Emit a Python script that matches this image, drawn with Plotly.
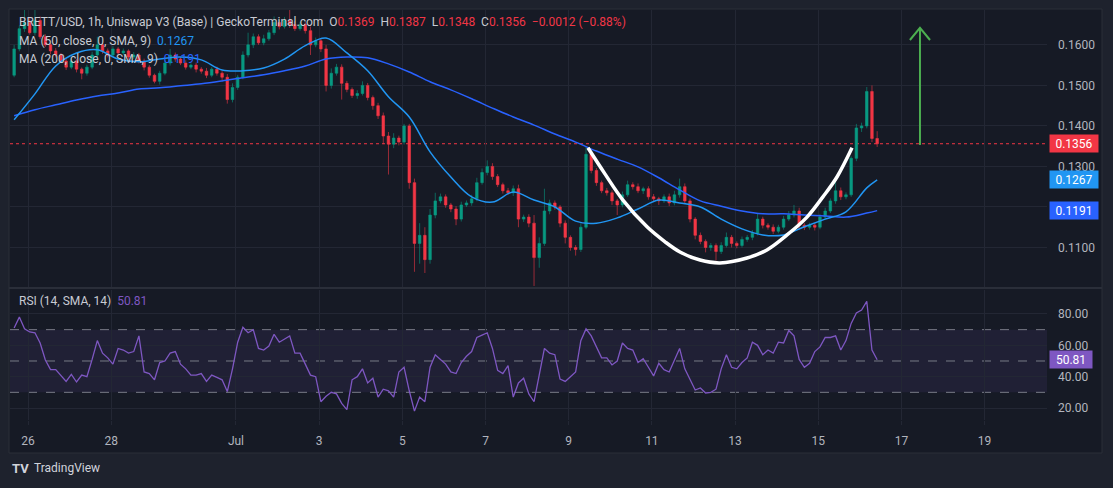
import pandas as pd
import plotly.graph_objects as go

# ------------------------------------------------------------------ data
candle_start = "2024-06-25 16:00"
first_open = 0.1525
closes = [
    0.1590, 0.1640, 0.1655, 0.1630, 0.1660, 0.1620, 0.1600, 0.1585, 0.1575, 0.1560,
    0.1545, 0.1560, 0.1540, 0.1530, 0.1545, 0.1575, 0.1600, 0.1585, 0.1575, 0.1590,
    0.1580, 0.1585, 0.1570, 0.1575, 0.1560, 0.1545, 0.1525, 0.1510, 0.1530, 0.1555,
    0.1575, 0.1565, 0.1555, 0.1545, 0.1550, 0.1540, 0.1535, 0.1525, 0.1540, 0.1530,
    0.1520, 0.1465, 0.1495, 0.1520, 0.1575, 0.1600, 0.1620, 0.1605, 0.1615, 0.1630,
    0.1655, 0.1645, 0.1660, 0.1650, 0.1640, 0.1650, 0.1635, 0.1600, 0.1610, 0.1590,
    0.1500, 0.1530, 0.1545, 0.1505, 0.1490, 0.1475, 0.1480, 0.1500, 0.1470, 0.1450,
    0.1425, 0.1375, 0.1355, 0.1370, 0.1360, 0.1400, 0.1260, 0.1110, 0.1130, 0.1070,
    0.1180, 0.1215, 0.1225, 0.1205, 0.1195, 0.1170, 0.1205, 0.1210, 0.1220, 0.1260,
    0.1285, 0.1300, 0.1275, 0.1255, 0.1240, 0.1235, 0.1245, 0.1170, 0.1175, 0.1160,
    0.1075, 0.1110, 0.1190, 0.1210, 0.1200, 0.1160, 0.1125, 0.1100, 0.1095, 0.1150,
    0.1330, 0.1290, 0.1260, 0.1240, 0.1235, 0.1215, 0.1205, 0.1230, 0.1255, 0.1250,
    0.1240, 0.1245, 0.1225, 0.1220, 0.1215, 0.1225, 0.1210, 0.1230, 0.1250, 0.1215,
    0.1170, 0.1130, 0.1115, 0.1100, 0.1105, 0.1090, 0.1105, 0.1125, 0.1110, 0.1105,
    0.1120, 0.1125, 0.1135, 0.1170, 0.1155, 0.1150, 0.1140, 0.1150, 0.1170, 0.1180,
    0.1190, 0.1155, 0.1150, 0.1155, 0.1150, 0.1175, 0.1190, 0.1215, 0.1240, 0.1225,
    0.1230, 0.1320, 0.1395, 0.1400, 0.1485, 0.1369, 0.1356,
]
# wick lengths above / below the body, in units of 0.0001
upper_wick = [
    10, 8, 31, 12, 26, 10, 6, 5, 7, 5,
    6, 8, 5, 4, 6, 8, 20, 5, 6, 7,
    5, 6, 4, 7, 5, 6, 5, 4, 6, 8,
    15, 6, 5, 7, 4, 6, 5, 8, 5, 6,
    5, 8, 10, 6, 9, 30, 8, 6, 10, 7,
    15, 6, 9, 26, 8, 7, 6, 10, 8, 6,
    10, 12, 8, 7, 6, 5, 8, 10, 6, 5,
    7, 8, 10, 12, 6, 5, 5, 10, 30, 20,
    15, 20, 8, 6, 5, 7, 8, 6, 10, 12,
    10, 15, 8, 6, 5, 7, 8, 10, 6, 7,
    20, 15, 55, 8, 6, 5, 7, 5, 6, 10,
    20, 8, 6, 5, 7, 6, 5, 8, 10, 6,
    8, 5, 6, 7, 5, 6, 8, 10, 20, 8,
    6, 5, 7, 5, 6, 5, 8, 12, 6, 5,
    7, 6, 8, 15, 6, 5, 7, 6, 8, 10,
    15, 8, 5, 6, 5, 7, 8, 6, 30, 8,
    6, 5, 10, 8, 11, 15, 18,
]
lower_wick = [
    5, 6, 8, 5, 7, 6, 5, 8, 6, 5,
    7, 5, 8, 15, 6, 5, 5, 7, 6, 5,
    6, 5, 7, 5, 6, 8, 6, 5, 8, 5,
    6, 7, 5, 6, 5, 8, 6, 7, 5, 6,
    8, 10, 7, 6, 5, 6, 8, 5, 6, 5,
    6, 7, 5, 8, 6, 5, 7, 25, 6, 8,
    15, 8, 6, 40, 7, 6, 8, 5, 7, 10,
    8, 20, 75, 10, 8, 6, 15, 70, 50, 33,
    10, 8, 6, 7, 8, 15, 6, 5, 7, 6,
    5, 7, 8, 6, 7, 5, 8, 20, 7, 10,
    70, 25, 6, 8, 7, 10, 15, 8, 15, 6,
    5, 7, 8, 6, 7, 10, 25, 6, 5, 7,
    6, 8, 7, 6, 10, 5, 8, 6, 7, 6,
    8, 10, 7, 12, 8, 22, 6, 5, 10, 7,
    5, 6, 7, 5, 8, 6, 7, 5, 6, 5,
    6, 10, 7, 6, 8, 5, 6, 5, 7, 8,
    6, 5, 7, 10, 6, 9, 8,
]
rsi_values = [
    71, 78, 70.5, 68.5, 68, 61.5, 50.6, 44.5, 44.5, 41,
    37, 41.5, 36.6, 41, 40, 51, 63, 55, 52, 48,
    58, 57, 55, 56, 66, 43, 42, 38, 49, 50,
    55, 56, 48, 45, 41, 41, 42, 37, 41, 39.5,
    38, 30.5, 45, 62, 71.5, 68, 70, 58, 57, 59.5,
    67, 62, 64, 66, 55, 55, 48, 41, 40, 24,
    27.5, 30, 29, 23, 19, 38, 40, 45, 36, 39,
    27, 32, 31, 27, 43, 46, 31, 18, 27, 24,
    46, 54, 51, 48, 43, 42, 49, 53, 56, 65,
    66.5, 68, 58, 44, 42, 47, 27, 36, 39, 29,
    24, 40, 58, 55, 54, 38.5, 37, 40, 43, 63,
    70.5, 66, 59, 52, 52, 47.5, 50, 61.5, 58, 57,
    49, 51.5, 46, 40.5, 48.5, 44.5, 43, 50, 58, 45,
    38, 31.5, 32.8, 29.6, 30, 32, 45, 54, 46, 45,
    49, 52, 62, 60, 54, 57, 55, 62, 61.5, 69.5,
    66, 51, 46, 48.5, 56, 59, 65, 65, 66, 57,
    63, 74, 80.6, 82.5, 88, 57, 50.81,
]
ma_index = list(range(0, 165, 4)) + [166]
ma50 = [
    0.1415, 0.1479, 0.1548, 0.1580, 0.1588, 0.1565, 0.1558, 0.1565, 0.1570, 0.1563,
    0.1538, 0.1536, 0.1543, 0.1565, 0.1598, 0.1617, 0.1580, 0.1536, 0.1472, 0.1422,
    0.1336, 0.1274, 0.1225, 0.1212, 0.1237, 0.1217, 0.1200, 0.1165, 0.1160, 0.1173,
    0.1195, 0.1217, 0.1210, 0.1200, 0.1170, 0.1146, 0.1131, 0.1131, 0.1151, 0.1170,
    0.1188, 0.1247, 0.1267,
]
ma200 = [
    0.1425, 0.1440, 0.1452, 0.1464, 0.1474, 0.1481, 0.1491, 0.1494, 0.1499, 0.1504,
    0.1511, 0.1519, 0.1526, 0.1536, 0.1548, 0.1565, 0.1570, 0.1568, 0.1553, 0.1533,
    0.1509, 0.1489, 0.1467, 0.1444, 0.1422, 0.1402, 0.1380, 0.1360, 0.1338, 0.1318,
    0.1299, 0.1272, 0.1242, 0.1215, 0.1202, 0.1190, 0.1183, 0.1183, 0.1180, 0.1178,
    0.1175, 0.1185, 0.1191,
]
# cup drawing (hours after 2024-06-26 00:00, price)
cup_hours = [323.1, 333.0, 343.3, 357.2, 367.6, 376.2, 387.8, 399.3, 414.9, 426.4,
             438.0, 449.5, 458.7, 466.8, 475.5]
cup_prices = [0.1346, 0.1281, 0.1217, 0.1151, 0.1114, 0.1089, 0.1069, 0.1062, 0.1074, 0.1094,
              0.1131, 0.1175, 0.1225, 0.1274, 0.1346]
# green arrow drawing
arrow_hour = 514.7
arrow_half_width_hours = 5.8
arrow_base_price = 0.1353
arrow_tip_price = 0.1642
arrow_head_price = 0.1612

change_text = "−0.0012 (−0.88%)"
x_tick_dates = ["2024-06-26", "2024-06-28", "2024-07-01", "2024-07-03", "2024-07-05",
                "2024-07-07", "2024-07-09", "2024-07-11", "2024-07-13", "2024-07-15",
                "2024-07-17", "2024-07-19"]
x_tick_text = ["26", "28", "Jul", "3", "5", "7", "9", "11", "13", "15", "17", "19"]
price_ticks = [0.11, 0.12, 0.13, 0.14, 0.15, 0.16]
price_tick_text = ["0.1100", "", "0.1300", "0.1400", "0.1500", "0.1600"]
rsi_ticks = [20, 40, 60, 80]
rsi_tick_text = ["20.00", "40.00", "60.00", "80.00"]
rsi_levels = [70, 50, 30]

# ------------------------------------------------------------------ derived
times = pd.date_range(candle_start, periods=len(closes), freq="3h")
opens = [first_open] + closes[:-1]
highs = [max(o, c) + u * 1e-4 for o, c, u in zip(opens, closes, upper_wick)]
lows = [min(o, c) - w * 1e-4 for o, c, w in zip(opens, closes, lower_wick)]
ma_times = [times[i] for i in ma_index]
day0 = pd.Timestamp("2024-06-26")
cup_times = [day0 + pd.Timedelta(hours=h) for h in cup_hours]
at = day0 + pd.Timedelta(hours=arrow_hour)
al = day0 + pd.Timedelta(hours=arrow_hour - arrow_half_width_hours)
ar = day0 + pd.Timedelta(hours=arrow_hour + arrow_half_width_hours)

UP = "#089981"
DOWN = "#f23645"
MA50C = "#2196f3"
MA200C = "#2962ff"
RSIC = "#7e57c2"
GRID = "#232734"
TXT = "#b2b5be"
PANE = "#161a25"
OUTER = "#1e222d"

fig = go.Figure()
fig.add_trace(go.Candlestick(
    x=times, open=opens, high=highs, low=lows, close=closes,
    increasing=dict(line=dict(color=UP, width=0.6), fillcolor=UP),
    decreasing=dict(line=dict(color=DOWN, width=0.6), fillcolor=DOWN),
    whiskerwidth=0, hoverinfo="skip", showlegend=False, xaxis="x", yaxis="y"))
fig.add_trace(go.Scatter(x=ma_times, y=ma200, mode="lines",
                         line=dict(color=MA200C, width=1.5, shape="spline"),
                         hoverinfo="skip", xaxis="x", yaxis="y"))
fig.add_trace(go.Scatter(x=ma_times, y=ma50, mode="lines",
                         line=dict(color=MA50C, width=1.5, shape="spline"),
                         hoverinfo="skip", xaxis="x", yaxis="y"))
fig.add_trace(go.Scatter(x=cup_times, y=cup_prices, mode="lines",
                         line=dict(color="#ffffff", width=3.5, shape="spline"),
                         hoverinfo="skip", xaxis="x", yaxis="y"))
fig.add_trace(go.Scatter(
    x=[at, at, None, al, at, ar],
    y=[arrow_base_price, arrow_tip_price, None, arrow_head_price, arrow_tip_price, arrow_head_price],
    mode="lines", line=dict(color="#4caf50", width=2), hoverinfo="skip", xaxis="x", yaxis="y"))
fig.add_trace(go.Scatter(x=times, y=rsi_values, mode="lines",
                         line=dict(color=RSIC, width=1.3),
                         hoverinfo="skip", xaxis="x", yaxis="y2"))

# geometry helpers (paper coords)
L, R, T, B = 10, 66, 10, 68
W, H = 1113, 488
pw, ph = W - L - R, H - T - B


def px_x(px):
    return (px - L) / pw


def px_y(py):
    return (H - B - py) / ph


shapes = [
    dict(type="rect", xref="paper", yref="paper", x0=px_x(9), x1=px_x(1102),
         y0=px_y(453), y1=px_y(9), fillcolor=PANE, line=dict(color="#2a2e39", width=1),
         layer="below"),
    dict(type="rect", xref="paper", yref="y2", x0=0, x1=1, y0=30, y1=70,
         fillcolor="rgba(126,87,194,0.10)", line=dict(width=0), layer="below"),
    dict(type="line", xref="paper", yref="paper", x0=px_x(9), x1=px_x(1102),
         y0=px_y(288), y1=px_y(288), line=dict(color="#2a2e39", width=2)),
    dict(type="line", xref="paper", yref="y", x0=0, x1=1, y0=closes[-1], y1=closes[-1],
         line=dict(color=DOWN, width=1, dash="dot"), layer="below"),
]
for lv in rsi_levels:
    shapes.append(dict(type="line", xref="paper", yref="y2", x0=0, x1=1, y0=lv, y1=lv,
                       line=dict(color="#787b86", width=1, dash="dash"), layer="below"))

sp = "&nbsp;&nbsp;"
red = lambda s: f"<span style='color:{DOWN}'>{s}</span>"
line1 = ("BRETT/USD, 1h, Uniswap V3 (Base) | GeckoTerminal.com" + sp +
         "O" + red(f"{opens[-1]:.4f}") + sp + "H" + red(f"{highs[-1]:.4f}") + sp +
         "L" + red(f"{lows[-1]:.4f}") + sp + "C" + red(f"{closes[-1]:.4f}") + sp +
         red(change_text))
line2 = f"MA (50, close, 0, SMA, 9){sp}<span style='color:{MA50C}'>{ma50[-1]:.4f}</span>"
line3 = f"MA (200, close, 0, SMA, 9){sp}<span style='color:{MA200C}'>{ma200[-1]:.4f}</span>"
line4 = f"RSI (14, SMA, 14){sp}<span style='color:{RSIC}'>{rsi_values[-1]:.2f}</span>"

ann = []
for txt, py in [(line1, 22), (line2, 41), (line3, 59), (line4, 301)]:
    ann.append(dict(text=txt, xref="paper", yref="paper", x=px_x(17), y=px_y(py),
                    xanchor="left", yanchor="middle", showarrow=False,
                    font=dict(size=12, color="#c8cbd3")))
for val, yref, bg, fmt in [(closes[-1], "y", DOWN, "{:.4f}"), (ma50[-1], "y", MA50C, "{:.4f}"),
                           (ma200[-1], "y", MA200C, "{:.4f}"), (rsi_values[-1], "y2", RSIC, "{:.2f}")]:
    ann.append(dict(text=fmt.format(val), xref="paper", yref=yref, x=px_x(1049), y=val,
                    xanchor="left", yanchor="middle", showarrow=False, bgcolor=bg,
                    borderpad=2, width=44 if yref == "y" else 38, height=13,
                    font=dict(size=12, color="#ffffff")))
ann.append(dict(text="<b>TV</b>", xref="paper", yref="paper", x=px_x(10), y=px_y(468),
                xanchor="left", yanchor="middle", showarrow=False,
                font=dict(size=13, color="#d1d4dc")))
ann.append(dict(text="TradingView", xref="paper", yref="paper", x=px_x(32), y=px_y(468),
                xanchor="left", yanchor="middle", showarrow=False,
                font=dict(size=12, color="#d1d4dc")))

x_left = day0 - pd.Timedelta(hours=10.39)
x_right = day0 + pd.Timedelta(hours=588.0)

fig.update_layout(
    width=W, height=H, margin=dict(l=L, r=R, t=T, b=B),
    paper_bgcolor=OUTER, plot_bgcolor=PANE, showlegend=False,
    font=dict(family="Roboto, sans-serif", color=TXT, size=12),
    xaxis=dict(type="date", range=[x_left, x_right], anchor="y2",
               tickvals=x_tick_dates, ticktext=x_tick_text,
               showgrid=True, gridcolor=GRID, zeroline=False, showline=False,
               ticks="outside", ticklen=4, tickcolor=GRID, ticklabelstandoff=6,
               rangeslider=dict(visible=False), tickfont=dict(size=12, color=TXT)),
    yaxis=dict(domain=[px_y(287), 1], range=[0.10025, 0.1686], side="right", anchor="x",
               tickvals=price_ticks, ticktext=price_tick_text, showgrid=True, gridcolor=GRID,
               zeroline=False, showline=False, ticklabelstandoff=10,
               tickfont=dict(size=12, color=TXT)),
    yaxis2=dict(domain=[0, px_y(290)], range=[12.35, 95.3], side="right", anchor="x",
                tickvals=rsi_ticks, ticktext=rsi_tick_text, showgrid=True, gridcolor=GRID,
                zeroline=False, showline=False, ticklabelstandoff=10,
                tickfont=dict(size=12, color=TXT)),
    shapes=shapes, annotations=ann,
)

fig.write_html("out.html", config={"displayModeBar": False},
               post_script="document.body.style.margin='0';document.body.style.overflow='hidden';")
